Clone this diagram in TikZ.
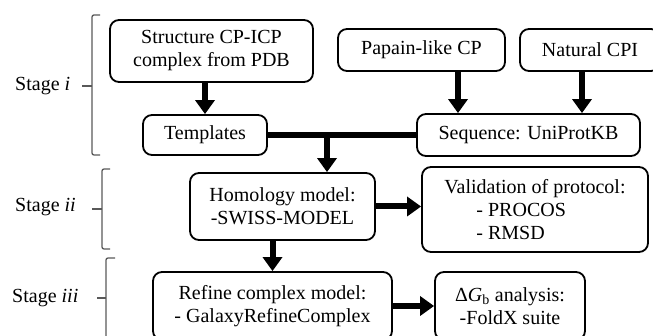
\documentclass[tikz,border=0pt]{standalone}
\usepackage{fontspec}
\setmainfont{Liberation Serif}
\usetikzlibrary{arrows.meta}
\begin{document}
\begin{tikzpicture}[x=1pt,y=-1pt,
  box/.style={draw, line width=1.8pt, rounded corners=9pt, align=center, inner sep=0pt, font=\fontsize{20}{23}\selectfont},
  arr/.style={line width=6pt, -{Triangle[width=19pt,length=14pt]}},
  bar/.style={line width=6pt},
  brace/.style={draw=black!65, line width=1.3pt, rounded corners=2pt},
  lab/.style={font=\fontsize{20}{23}\selectfont, inner sep=0pt, anchor=west}]
\useasboundingbox (0,0) rectangle (653,336);
\clip (0,0) rectangle (653,336);
% boxes
\node[box, minimum width=203pt, minimum height=62pt] (pdb) at (211.5,51) {Structure CP-ICP\\complex from PDB};
\node[box, minimum width=124pt, minimum height=40pt] (tmpl) at (205,135) {Templates};
\node[box, minimum width=167pt, minimum height=42pt] (pap) at (421.5,50) {Papain-like CP};
\node[box, minimum width=140pt, minimum height=42pt] (nat) at (590,50) {Natural CPI};
\node[box, minimum width=223pt, minimum height=42pt] (seq) at (528.5,135) {Sequence: UniProtKB};
\node[box, minimum width=185pt, minimum height=67pt] (hom) at (282.5,206.5) {Homology model:\\-SWISS-MODEL};
\node[box, minimum width=226pt, minimum height=85pt, align=left] (val) at (535,209.5) {Validation of protocol:\\\hspace*{32pt}- PROCOS\\\hspace*{32pt}- RMSD};
\node[box, minimum width=239pt, minimum height=68pt] (ref) at (272.5,306) {Refine complex model:\\- GalaxyRefineComplex};
\node[box, minimum width=150pt, minimum height=68pt] (dg) at (510,306) {Δ\textit{G}\textsubscript{b} analysis:\\-FoldX suite};
% connectors
\coordinate (pa) at (458,0);
\coordinate (na) at (582,0);
\coordinate (jn) at (327,135);
\draw[arr] (pdb.south -| tmpl.north) -- (tmpl.north);
\draw[arr] (pap.south -| pa) -- (seq.north -| pa);
\draw[arr] (nat.south -| na) -- (seq.north -| na);
\draw[bar] (tmpl.east) -- (tmpl.east -| seq.west);
\draw[arr] (jn) -- (jn |- hom.north);
\draw[arr] (hom.east) -- (hom.east -| val.west);
\draw[arr] (hom.south -| ref.north) -- (ref.north);
\draw[arr] (ref.east) -- (ref.east -| dg.west);
% stage labels and brackets
\node[lab] (s1) at (15,86) {Stage \textit{i}};
\node[lab] (s2) at (15,207) {Stage \textit{ii}};
\node[lab] (s3) at (12,298) {Stage \textit{iii}};
\draw[brace] (100,15) -- (92,15) -- (92,155) -- (100,155);
\draw[brace] (82,86) -- (92,86);
\draw[brace] (110,169) -- (102,169) -- (102,249) -- (110,249);
\draw[brace] (92,209) -- (102,209);
\draw[brace] (115,258) -- (106,258) -- (106,350);
\draw[brace] (97,298) -- (106,298);
\end{tikzpicture}
\end{document}
